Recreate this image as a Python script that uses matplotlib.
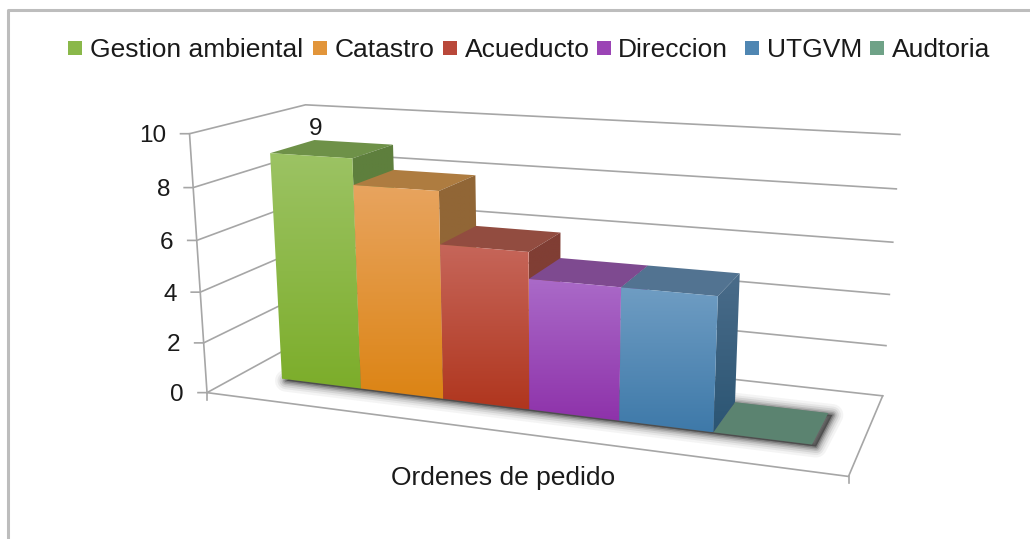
import numpy as np
import matplotlib
matplotlib.use("Agg")
import matplotlib.pyplot as plt
from matplotlib.patches import Polygon, Rectangle
from matplotlib.colors import LinearSegmentedColormap

series = ["Gestion ambiental", "Catastro", "Acueducto", "Direccion", "UTGVM", "Audtoria"]
values = [9, 8, 6, 5, 5, 0]
z_ticks = [0, 2, 4, 6, 8, 10]
category = "Ordenes de pedido"

front_top = ["#9CC364", "#E8A45F", "#C6665A", "#AA6AC8", "#6F9DC3", "#5B8370"]
front_bot = ["#7CAD2A", "#DC8414", "#B0361E", "#8E32AA", "#3E79A9", "#5B8370"]
top_cols = ["#6E9148", "#AE7C40", "#924C40", "#7E4A90", "#527391", "#5B8370"]
side_top = ["#5E7F3D", "#916636", "#803E34", "#6E4080", "#4A6C8A", "#5B8370"]
side_bot = ["#5E7F3D", "#916636", "#803E34", "#6E4080", "#2B5573", "#5B8370"]
legend_cols = ["#8AB84A", "#E2953A", "#B9483A", "#9B44B5", "#4F86B2", "#6FA287"]

legend_sq = [68, 313, 443, 597, 745, 870]
legend_tx = [90, 335, 465, 618, 767, 892]

# pixel positions of the chart box corners: (across, depth, height) -> (x, y)
corners = [
    ((0, 0, 0), (207, 392)), ((0, 0, 10), (190, 133)),
    ((1, 0, 0), (848, 478)), ((1, 1, 0), (883, 394)),
    ((0, 1, 0), (316, 334)), ((0, 1, 10), (305, 105)),
    ((1, 1, 10), (900, 135)),
]


def fit_projection(pairs):
    rows, rhs = [], []
    for (a, d, h), (x, y) in pairs:
        rows.append([a, d, h, 1, 0, 0, 0, 0, -x * a, -x * d, -x * h])
        rhs.append(x)
        rows.append([0, 0, 0, 0, a, d, h, 1, -y * a, -y * d, -y * h])
        rhs.append(y)
    p = np.linalg.lstsq(np.array(rows, float), np.array(rhs, float), rcond=None)[0]
    return np.append(p, 1.0).reshape(3, 4)


P = fit_projection(corners)


def proj(a, d, h):
    v = P @ np.array([a, d, h, 1.0])
    return v[0] / v[2], v[1] / v[2]


def grad_poly(ax, pts, c_top, c_bot, zorder):
    pts = np.array(pts)
    cmap = LinearSegmentedColormap.from_list("g", [c_top, c_bot])
    im = ax.imshow(np.linspace(0, 1, 256).reshape(-1, 1), cmap=cmap, aspect="auto",
                   extent=(pts[:, 0].min(), pts[:, 0].max(), pts[:, 1].max(), pts[:, 1].min()),
                   zorder=zorder, interpolation="bilinear")
    clip = Polygon(pts, transform=ax.transData, facecolor="none", edgecolor="none")
    ax.add_patch(clip)
    im.set_clip_path(clip)


plt.rcParams["font.family"] = ["Liberation Sans", "DejaVu Sans"]
fig = plt.figure(figsize=(10.3, 5.39), dpi=100)
ax = fig.add_axes([0, 0, 1, 1])
grid = "#A6A6A6"
txt = "#1A1A1A"

# chart border
ax.plot([8, 8, 1030], [539, 10, 10], color="#BDBDBD", lw=2.2, zorder=1)

# walls and floor
for z in z_ticks:
    x0, y0 = proj(0, 0, z)
    x1, y1 = proj(0, 1, z)
    x2, y2 = proj(1, 1, z)
    ax.plot([x0 - 9, x0, x1, x2], [y0, y0, y1, y2], color=grid, lw=1.2, zorder=2)
    ax.text(x0 - 23, y0 + 2.5, str(z), ha="right", va="center", fontsize=17.5, color=txt)
pts = [proj(0, 0, 0), proj(0, 0, 10)]
ax.plot(*zip(*pts), color=grid, lw=1.2, zorder=2)
pts = [proj(0, 0, 0), proj(1, 0, 0), proj(1, 1, 0)]
ax.plot(*zip(*pts), color=grid, lw=1.2, zorder=2)
fx, fy = proj(1, 0, 0)
ax.plot([fx, fx], [fy, fy + 7], color=grid, lw=1.2, zorder=2)
fx, fy = proj(0, 0, 0)
ax.plot([fx, fx], [fy, fy + 7], color=grid, lw=1.2, zorder=2)

# bar layout inside the box
u0, wd = 0.0755, 0.143
d0, d1 = 0.29, 0.69

# soft shadow on the floor
foot = [proj(u0, d0, 0), proj(u0 + wd * len(values), d0, 0),
        proj(u0 + wd * len(values), d1, 0), proj(u0, d1, 0)]
foot = [(x + 4, y + 2) for x, y in foot]
for lw, al in zip([22, 17, 13, 9, 6, 3], [0.05, 0.07, 0.10, 0.14, 0.2, 0.3]):
    ax.add_patch(Polygon(foot, closed=True, facecolor="#333333", edgecolor="#333333",
                         lw=lw * 0.72, alpha=al, joinstyle="round", zorder=3))

for i, v in enumerate(values):
    a0, a1 = u0 + i * wd, u0 + (i + 1) * wd
    z = 5
    if v > 0:
        ax.add_patch(Polygon([proj(a0, d0, v), proj(a1, d0, v), proj(a1, d1, v), proj(a0, d1, v)],
                             facecolor=top_cols[i], edgecolor="none", zorder=z + i * 3))
        grad_poly(ax, [proj(a1, d0, v), proj(a1, d1, v), proj(a1, d1, 0), proj(a1, d0, 0)],
                  side_top[i], side_bot[i], z + i * 3 + 0.5)
        grad_poly(ax, [proj(a0, d0, v), proj(a1, d0, v), proj(a1, d0, 0), proj(a0, d0, 0)],
                  front_top[i], front_bot[i], z + i * 3 + 1)
    else:
        ax.add_patch(Polygon([proj(a0, d0, 0), proj(a1, d0, 0), proj(a1, d1, 0), proj(a0, d1, 0)],
                             facecolor=top_cols[i], edgecolor="none", zorder=z))

# data label
ax.text(316, 129, str(values[0]), ha="center", va="center", fontsize=17.5, color=txt, zorder=40)

ax.text(503, 478, category, ha="center", va="center", fontsize=19, color=txt)

# legend
for name, c, sx, tx in zip(series, legend_cols, legend_sq, legend_tx):
    ax.add_patch(Rectangle((sx, 41), 14, 14, facecolor=c, edgecolor="none"))
    ax.text(tx, 50, name, ha="left", va="center", fontsize=19, color=txt)

ax.set_xlim(0, 1030)
ax.set_ylim(539, 0)
ax.axis("off")
fig.savefig("out.png", dpi=100)
